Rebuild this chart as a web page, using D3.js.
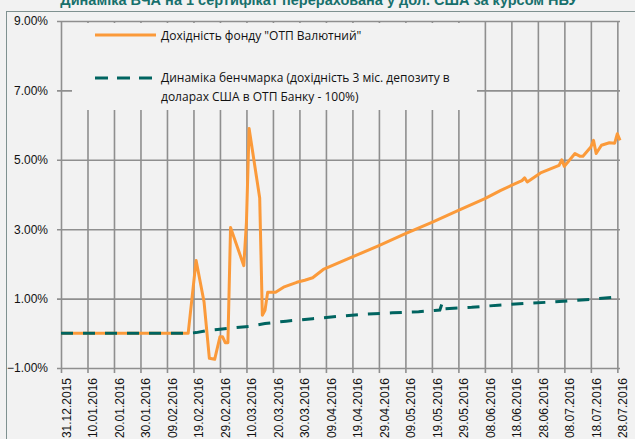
<!DOCTYPE html>
<html lang="uk">
<head>
  <meta charset="UTF-8">
  <title>Динаміка ВЧА</title>
  <script src="https://d3js.org/d3.v7.min.js"></script>
  <style>
    body { margin: 0; background: #f2f2f2; }
    svg { display: block; }
  </style>
</head>
<body>
<div class="main"></div>
<script>

  // fund yield, % (ОТП Валютний)
  var fundDates = ["31.12.2015", "17.02.2016", "20.02.2016", "23.02.2016", "25.02.2016", "27.02.2016",
    "29.02.2016", "01.03.2016", "02.03.2016", "03.03.2016", "04.03.2016", "09.03.2016", "10.03.2016",
    "11.03.2016", "15.03.2016", "16.03.2016", "17.03.2016", "18.03.2016", "21.03.2016", "24.03.2016",
    "29.03.2016", "01.04.2016", "04.04.2016", "08.04.2016", "19.04.2016", "29.04.2016", "09.05.2016",
    "19.05.2016", "29.05.2016", "08.06.2016", "14.06.2016", "18.06.2016", "22.06.2016", "23.06.2016",
    "24.06.2016", "29.06.2016", "06.07.2016", "07.07.2016", "08.07.2016", "12.07.2016", "14.07.2016",
    "15.07.2016", "18.07.2016", "19.07.2016", "20.07.2016", "22.07.2016", "25.07.2016", "27.07.2016",
    "28.07.2016", "29.07.2016"];
  var fundValues = [0, 0, 2.1, 0.9, -0.72, -0.75,
    -0.1, -0.1, -0.27, -0.27, 3.05, 1.95, 3.2,
    5.9, 3.9, 0.52, 0.66, 1.18, 1.18, 1.33,
    1.47, 1.53, 1.6, 1.84, 2.2, 2.53, 2.87,
    3.2, 3.54, 3.88, 4.12, 4.26, 4.4, 4.48,
    4.36, 4.62, 4.84, 5.0, 4.81, 5.18, 5.1,
    5.1, 5.37, 5.56, 5.18, 5.42, 5.49, 5.48,
    5.75, 5.56];

  // benchmark, %
  var benchDates = ["31.12.2015", "17.02.2016", "20.02.2016", "25.02.2016", "29.02.2016", "04.03.2016",
    "11.03.2016", "17.03.2016", "25.03.2016", "04.04.2016", "14.04.2016", "24.04.2016", "04.05.2016",
    "14.05.2016", "20.05.2016", "22.05.2016", "23.05.2016", "24.05.2016", "03.06.2016", "13.06.2016",
    "23.06.2016", "03.07.2016", "13.07.2016", "29.07.2016"];
  var benchValues = [0, 0, 0.02, 0.09, 0.12, 0.15,
    0.2, 0.28, 0.35, 0.42, 0.49, 0.55, 0.59,
    0.62, 0.66, 0.67, 0.9, 0.71, 0.75, 0.81,
    0.86, 0.9, 0.95, 1.05];

  var yTicks = [-1, 1, 3, 5, 7, 9];
  var xTickLabels = ["31.12.2015", "10.01.2016", "20.01.2016", "30.01.2016", "09.02.2016", "19.02.2016",
    "29.02.2016", "10.03.2016", "20.03.2016", "30.03.2016", "09.04.2016", "19.04.2016", "29.04.2016",
    "09.05.2016", "19.05.2016", "29.05.2016", "08.06.2016", "18.06.2016", "28.06.2016", "08.07.2016",
    "18.07.2016", "28.07.2016"];

  var title = "Динаміка ВЧА на 1 сертифікат перерахована у дол. США за курсом НБУ";
  var legendNames = ["Дохідність фонду \"ОТП Валютний\"",
    ["Динаміка бенчмарка (дохідність 3 міс. депозиту в", "доларах США в ОТП Банку - 100%)"]];

  var width = 635, height = 439;
  var orange = "#fb9a3a", teal = "#006460", gridColor = "#8f8f8f";
  var parseDate = d3.timeParse("%d.%m.%Y");

  var fundData = fundDates.map((d, i) => [parseDate(d), fundValues[i]]);
  var benchData = benchDates.map((d, i) => [parseDate(d), benchValues[i]]);
  var tickDates = xTickLabels.map(parseDate);

  var xScale = d3.scaleTime()
          .domain([parseDate("31.12.2015"), parseDate("29.07.2016")])
          .range([61, 620]);
  var yScale = d3.scaleLinear()
          .domain([-1, 9])
          .range([368, 21]);

  var svg = d3.select(".main")
          .append("svg")
          .attr("width", width)
          .attr("height", height);

  // chart border
  svg.append("rect")
          .attr("x", 6.5).attr("y", 11.5)
          .attr("width", 660).attr("height", 460)
          .style("fill", "#f2f2f2")
          .style("stroke", "#7f9190");

  svg.append("text")
          .attr("x", 319).attr("y", 5)
          .attr("text-anchor", "middle")
          .style("font-family", "Liberation Sans, Arial, sans-serif")
          .style("font-weight", "bold")
          .style("font-size", "14.5px")
          .style("fill", "#17706c")
          .text(title);

  // horizontal grid
  var yAxis = d3.axisLeft(yScale)
          .tickValues(yTicks)
          .tickSize(-(620 - 57))
          .tickPadding(9)
          .tickFormat(d => d3.format(".2f")(d) + "%");
  var yG = svg.append("g")
          .attr("transform", "translate(57,0)")
          .call(yAxis);
  yG.select(".domain").remove();
  yG.selectAll("line").style("stroke", gridColor).style("stroke-width", 1.6);
  yG.selectAll("text")
          .attr("x", -9)
          .style("font-family", "Liberation Sans, Arial, sans-serif")
          .style("font-size", "12px")
          .style("fill", "#111");

  // vertical grid
  var xAxis = d3.axisBottom(xScale)
          .tickValues(tickDates)
          .tickSize(-(373 - 21))
          .tickFormat((d, i) => xTickLabels[i]);
  var xG = svg.append("g")
          .attr("transform", "translate(0,373)")
          .call(xAxis);
  xG.select(".domain").remove();
  xG.selectAll("line").style("stroke", gridColor).style("stroke-width", 1.6);
  xG.selectAll("text")
          .attr("transform", "rotate(-90)")
          .attr("text-anchor", "end")
          .attr("x", -5)
          .attr("y", 5)
          .attr("dy", "0.35em")
          .style("font-family", "Liberation Sans, Arial, sans-serif")
          .style("font-size", "12px")
          .style("fill", "#111");

  // legend background hides grid
  svg.append("rect")
          .attr("x", 72).attr("y", 23)
          .attr("width", 405).attr("height", 87)
          .style("fill", "#f2f2f2");

  var line = d3.line()
          .x(d => xScale(d[0]))
          .y(d => yScale(d[1]));

  svg.append("path")
          .datum(fundData)
          .attr("d", line)
          .style("fill", "none")
          .style("stroke", orange)
          .style("stroke-width", 3)
          .style("stroke-linejoin", "round");

  svg.append("path")
          .datum(benchData)
          .attr("d", line)
          .style("fill", "none")
          .style("stroke", teal)
          .style("stroke-width", 3)
          .style("stroke-dasharray", "12,10");

  // legend
  var legendFont = "'Open Sans', sans-serif";
  svg.append("line")
          .attr("x1", 95).attr("x2", 156).attr("y1", 35).attr("y2", 35)
          .style("stroke", orange).style("stroke-width", 3);
  svg.append("text")
          .attr("x", 161).attr("y", 39.5)
          .style("font-family", legendFont).style("font-size", "12px").style("fill", "#111")
          .text(legendNames[0]);

  svg.append("line")
          .attr("x1", 95).attr("x2", 153).attr("y1", 78).attr("y2", 78)
          .style("stroke", teal).style("stroke-width", 3)
          .style("stroke-dasharray", "13,9");
  svg.append("text")
          .attr("x", 161).attr("y", 82)
          .style("font-family", legendFont).style("font-size", "12px").style("fill", "#111")
          .text(legendNames[1][0]);
  svg.append("text")
          .attr("x", 161).attr("y", 101)
          .style("font-family", legendFont).style("font-size", "12px").style("fill", "#111")
          .text(legendNames[1][1]);

</script>
</body>
</html>
